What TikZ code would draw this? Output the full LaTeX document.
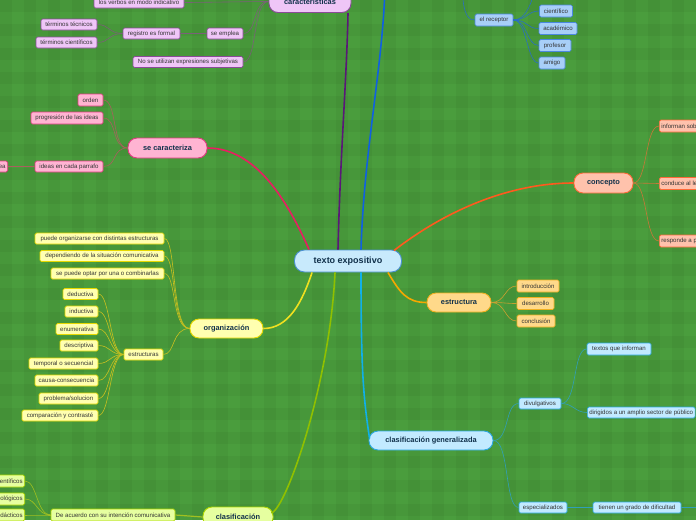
\documentclass[tikz,border=0pt]{standalone}
\usepackage{fontspec}
\setmainfont{Liberation Sans}
\usetikzlibrary{calc}
\definecolor{bg}{HTML}{4A9D3D}
\definecolor{txt}{HTML}{333333}
\definecolor{maintxt}{HTML}{10304A}
\definecolor{purF}{HTML}{EFC6F7}\definecolor{purD}{HTML}{8A4A98}\definecolor{purL}{HTML}{7A6078}\definecolor{purM}{HTML}{5A1878}
\definecolor{pinkF}{HTML}{FFB4D2}\definecolor{pinkD}{HTML}{E03A80}\definecolor{pinkL}{HTML}{A8605E}\definecolor{pinkM}{HTML}{E81E62}
\definecolor{salF}{HTML}{FFC2AC}\definecolor{salD}{HTML}{FF6A38}\definecolor{salL}{HTML}{C87838}\definecolor{salM}{HTML}{FF5A1E}
\definecolor{oraF}{HTML}{FFD98A}\definecolor{oraD}{HTML}{F0B020}\definecolor{oraL}{HTML}{C8A030}\definecolor{oraM}{HTML}{F5A800}
\definecolor{yelF}{HTML}{FFFFB0}\definecolor{yelD}{HTML}{E6D800}\definecolor{yelL}{HTML}{C8C020}\definecolor{yelM}{HTML}{F0E020}
\definecolor{grnF}{HTML}{E6FFA0}\definecolor{grnD}{HTML}{B0D800}\definecolor{grnL}{HTML}{A0C020}\definecolor{grnM}{HTML}{90C000}
\definecolor{cyaF}{HTML}{C2EAFF}\definecolor{cyaD}{HTML}{2AA8E0}\definecolor{cyaL}{HTML}{30A0B8}\definecolor{cyaM}{HTML}{10B0E8}
\definecolor{bluF}{HTML}{A8CFF8}\definecolor{bluD}{HTML}{4A88E0}\definecolor{bluL}{HTML}{2A6FC0}\definecolor{bluM}{HTML}{1060E0}
\definecolor{cenF}{HTML}{C8EAFC}\definecolor{cenD}{HTML}{4A90D0}
\begin{document}
\begin{tikzpicture}[x=1pt,y=-1pt,
  leaf/.style={draw, rounded corners=1.5pt, line width=0.7pt, font=\fontsize{6.1}{7}\selectfont, text=txt, inner xsep=2pt, inner ysep=0pt, minimum height=11pt},
  mainnode/.style={draw, rounded corners=9pt, line width=0.9pt, font=\fontsize{7.4}{8}\selectfont\bfseries, text=maintxt, inner sep=0pt, minimum height=19pt},
  lnk/.style={line width=0.6pt},
  mainlnk/.style={line width=1.6pt},
  pur/.style={fill=purF, draw=purD}, pink/.style={fill=pinkF, draw=pinkD},
  sal/.style={fill=salF, draw=salD}, ora/.style={fill=oraF, draw=oraD},
  yel/.style={fill=yelF, draw=yelD}, grn/.style={fill=grnF, draw=grnD},
  cya/.style={fill=cyaF, draw=cyaD}, blu/.style={fill=bluF, draw=bluD}]
\useasboundingbox (0,0) rectangle (696,520);
\clip (0,0) rectangle (696,520);
\fill[bg] (0,0) rectangle (696,520);
\foreach \i in {0,...,28} \fill[black,opacity=0.035] (\i*24,0) rectangle ++(12,520);
\foreach \j in {0,...,21} \fill[black,opacity=0.035] (0,\j*24) rectangle ++(696,12);

% central
\node[mainnode, fill=cenF, draw=cenD, minimum width=107pt, minimum height=22pt, rounded corners=10pt, font=\fontsize{9}{10}\selectfont\bfseries] (texto) at (348,261) {texto expositivo};

% ---------- caracteristicas (purple)
\node[mainnode, pur, minimum width=82pt, minimum height=22pt] (carac) at (310,1.5) {características};
\node[leaf, pur, minimum width=90pt] (verbos) at (139,2.5) {los verbos en modo indicativo};
\node[leaf, pur, minimum width=36pt] (seemplea) at (225,33.5) {se emplea};
\node[leaf, pur, minimum width=57pt] (registro) at (151.5,33.5) {registro es formal};
\node[leaf, pur, minimum width=56pt] (tecnicos) at (69,24.5) {términos técnicos};
\node[leaf, pur, minimum width=61pt] (cientificos) at (66.5,42.5) {términos científicos};
\node[leaf, pur, minimum width=110pt] (nosubj) at (188,62) {No se utilizan expresiones subjetivas};
\draw[lnk, purL] (carac.west) .. controls +(-16,0) and +(14,0) .. (verbos.east);
\draw[lnk, purL] (carac.west) .. controls +(-16,0) and +(14,0) .. (seemplea.east);
\draw[lnk, purL] (carac.west) .. controls +(-16,0) and +(14,0) .. (nosubj.east);
\draw[line width=1.4pt, purL] (seemplea.west) -- (registro.east);
\draw[lnk, purL] (registro.west) .. controls +(-14,0) and +(12,0) .. (tecnicos.east);
\draw[lnk, purL] (registro.west) .. controls +(-14,0) and +(12,0) .. (cientificos.east);
\draw[mainlnk, purM] ($(texto.north)+(-10,0)$) .. controls +(2,-90) and +(-1,60) .. ($(carac.south)+(38,0)$);

% ---------- blue (receptor)
\coordinate (elem) at (385,-14);
\coordinate (recparent) at (462,-14);
\coordinate (recup) at (536,-14);
\node[leaf, blu, minimum width=38pt, minimum height=12pt] (receptor) at (494,20) {el receptor};
\node[leaf, blu, minimum width=33pt, minimum height=12pt] (cientifico) at (556,11) {científico};
\node[leaf, blu, minimum width=38pt, minimum height=12pt] (academico) at (558,28.5) {académico};
\node[leaf, blu, minimum width=32pt, minimum height=12pt] (profesor) at (555,45.5) {profesor};
\node[leaf, blu, minimum width=26pt, minimum height=12pt] (amigo) at (552,63) {amigo};
\draw[mainlnk, bluM] ($(texto.north)+(13,0)$) .. controls +(3,-100) and +(-2,80) .. (elem);
\draw[lnk, bluL] (recparent) .. controls +(1,20) and +(-10,0) .. (receptor.west);
\draw[line width=1.2pt, bluL] (receptor.east) -- +(6,0);
\draw[lnk, bluL] (receptor.east) .. controls +(14,0) and +(-4,14) .. (recup);
\draw[lnk, bluL] (receptor.east) .. controls +(14,0) and +(-12,0) .. (cientifico.west);
\draw[lnk, bluL] (receptor.east) .. controls +(14,0) and +(-12,0) .. (academico.west);
\draw[lnk, bluL] (receptor.east) .. controls +(14,0) and +(-12,0) .. (profesor.west);
\draw[lnk, bluL] (receptor.east) .. controls +(14,0) and +(-12,0) .. (amigo.west);

% ---------- se caracteriza (pink)
\node[mainnode, pink, minimum width=79pt, minimum height=20pt] (secar) at (167.5,148) {se caracteriza};
\node[leaf, pink, minimum width=25pt, minimum height=12pt] (orden) at (90.5,100) {orden};
\node[leaf, pink, minimum width=72pt, minimum height=12pt] (progresion) at (67,118) {progresión de las ideas};
\node[leaf, pink, minimum width=68pt] (ideas) at (69,166.5) {ideas en cada parrafo};
\node[leaf, pink, anchor=east] (unaidea) at (8,166.5) {una idea};
\draw[lnk, pinkL] (secar.west) .. controls +(-16,0) and +(14,0) .. (orden.east);
\draw[lnk, pinkL] (secar.west) .. controls +(-16,0) and +(14,0) .. (progresion.east);
\draw[lnk, pinkL] (secar.west) .. controls +(-16,0) and +(14,0) .. (ideas.east);
\draw[line width=1pt, pinkL] (ideas.west) -- (unaidea.east);
\draw[mainlnk, pinkM] (secar.east) .. controls +(50,0) and +(-20,-45) .. ($(texto.north west)+(15,0)$);

% ---------- concepto (salmon)
\node[mainnode, sal, minimum width=59pt, minimum height=20pt] (concepto) at (603.5,183) {concepto};
\node[leaf, sal, anchor=west, minimum height=12pt] (informan) at (659,126) {informan sobre el tema};
\node[leaf, sal, anchor=west, minimum height=12pt] (conduce) at (659,183.5) {conduce al lector};
\node[leaf, sal, anchor=west, minimum height=12pt] (responde) at (659,241) {responde a preguntas};
\draw[lnk, salL] (concepto.east) .. controls +(14,0) and +(-14,0) .. (informan.west);
\draw[lnk, salL] (concepto.east) -- (conduce.west);
\draw[lnk, salL] (concepto.east) .. controls +(14,0) and +(-14,0) .. (responde.west);
\draw[mainlnk, salM] ($(texto.north east)+(-8,1)$) .. controls +(45,-35) and +(-70,0) .. (concepto.west);

% ---------- estructura (orange)
\node[mainnode, ora, minimum width=64pt, minimum height=19pt] (estructura) at (459,302.5) {estructura};
\node[leaf, ora, minimum width=42pt, minimum height=12pt] (intro) at (538,286) {introducción};
\node[leaf, ora, minimum width=37pt, minimum height=12pt] (desarrollo) at (535.5,303.5) {desarrollo};
\node[leaf, ora, minimum width=38pt, minimum height=12pt] (conclusion) at (536,321) {conclusión};
\draw[lnk, oraL] (estructura.east) .. controls +(14,0) and +(-12,0) .. (intro.west);
\draw[lnk, oraL] (estructura.east) .. controls +(14,0) and +(-12,0) .. (desarrollo.west);
\draw[lnk, oraL] (estructura.east) .. controls +(14,0) and +(-12,0) .. (conclusion.west);
\draw[mainlnk, oraM] ($(texto.south east)+(-14,0)$) .. controls +(12,20) and +(-20,0) .. (estructura.west);

% ---------- organizacion (yellow)
\node[mainnode, yel, minimum width=73pt, minimum height=19pt] (organizacion) at (226.5,328.5) {organización};
\node[leaf, yel, minimum width=129pt] (puede) at (99.5,238.5) {puede organizarse con distintas estructuras};
\node[leaf, yel, minimum width=124pt] (dependiendo) at (102,256) {dependiendo de la situación comunicativa};
\node[leaf, yel, minimum width=113pt] (seopt) at (107.5,273.5) {se puede optar por una o combinarlas};
\node[leaf, yel, minimum width=39pt] (estructuras) at (143.5,354.5) {estructuras};
\node[leaf, yel, minimum width=35pt] (deductiva) at (80.5,294) {deductiva};
\node[leaf, yel, minimum width=33pt] (inductiva) at (81.5,311.5) {inductiva};
\node[leaf, yel, minimum width=42pt] (enumerativa) at (77,329) {enumerativa};
\node[leaf, yel, minimum width=38pt] (descriptiva) at (79,345.5) {descriptiva};
\node[leaf, yel, minimum width=69pt] (temporal) at (63.5,363.5) {temporal o secuencial};
\node[leaf, yel, minimum width=63pt] (causa) at (66.5,380.5) {causa-consecuencia};
\node[leaf, yel, minimum width=59pt] (problema) at (68.5,398.5) {problema/solucion};
\node[leaf, yel, minimum width=76pt] (comparacion) at (60,415.5) {comparación y contrasté};
\foreach \c in {puede,dependiendo,seopt,estructuras}
  \draw[lnk, yelL] (organizacion.west) .. controls +(-18,0) and +(12,0) .. (\c.east);
\foreach \c in {deductiva,inductiva,enumerativa,descriptiva,temporal,causa,problema,comparacion}
  \draw[lnk, yelL] (estructuras.west) .. controls +(-14,0) and +(12,0) .. (\c.east);
\draw[mainlnk, yelM] ($(texto.south west)+(18,0)$) .. controls +(-10,30) and +(25,0) .. (organizacion.east);

% ---------- clasificacion (green)
\node[mainnode, grn, minimum width=70pt, minimum height=20pt] (clasif) at (238,517) {clasificación};
\node[leaf, grn, minimum width=124pt, minimum height=12pt] (deacuerdo) at (113,515) {De acuerdo con su intención comunicativa};
\node[leaf, grn, anchor=east, minimum height=12pt] (tcient) at (25,481) {textos científicos};
\node[leaf, grn, anchor=east, minimum height=12pt] (ttecno) at (25,499) {textos tecnológicos};
\node[leaf, grn, anchor=east, minimum height=12pt] (tdidac) at (25,515) {textos didácticos};
\draw[line width=1.2pt, grnL] (clasif.west) -- (deacuerdo.east);
\foreach \c in {tcient,ttecno,tdidac}
  \draw[lnk, grnL] (deacuerdo.west) .. controls +(-14,0) and +(12,0) .. (\c.east);
\draw[mainlnk, grnM] ($(texto.south)+(-13,0)$) .. controls +(-5,110) and +(15,-5) .. ($(clasif.east)+(-2,-4)$);

% ---------- clasificacion generalizada (cyan)
\coordinate (tienenchild) at (705,507.5);
\node[mainnode, cya, minimum width=124pt, minimum height=19pt] (cg) at (431,440.5) {clasificación generalizada};
\node[leaf, cya, minimum width=42pt] (divulg) at (540,403.5) {divulgativos};
\node[leaf, cya, minimum width=48pt] (espec) at (543,507.5) {especializados};
\node[leaf, cya, minimum width=64pt, minimum height=12pt] (textinf) at (619,349) {textos que informan};
\node[leaf, cya, anchor=west] (dirig) at (587,412.5) {dirigidos a un amplio sector de público};
\node[leaf, cya, minimum width=88pt] (tienen) at (637,507.5) {tienen un grado de dificultad};
\draw[lnk, cyaL] (cg.east) .. controls +(16,0) and +(-14,0) .. (divulg.west);
\draw[lnk, cyaL] (cg.east) .. controls +(16,0) and +(-14,0) .. (espec.west);
\draw[lnk, cyaL] (divulg.east) .. controls +(16,0) and +(-14,0) .. (textinf.west);
\draw[lnk, cyaL] (divulg.east) .. controls +(12,0) and +(-12,0) .. (dirig.west);
\draw[lnk, cyaL] (espec.east) -- (tienen.west);
\draw[lnk, cyaL] (tienen.east) -- (tienenchild);
\draw[mainlnk, cyaM] ($(texto.south)+(13,0)$) .. controls +(0,100) and +(-6,-40) .. ($(cg.west)+(1,-2)$);
\end{tikzpicture}
\end{document}
